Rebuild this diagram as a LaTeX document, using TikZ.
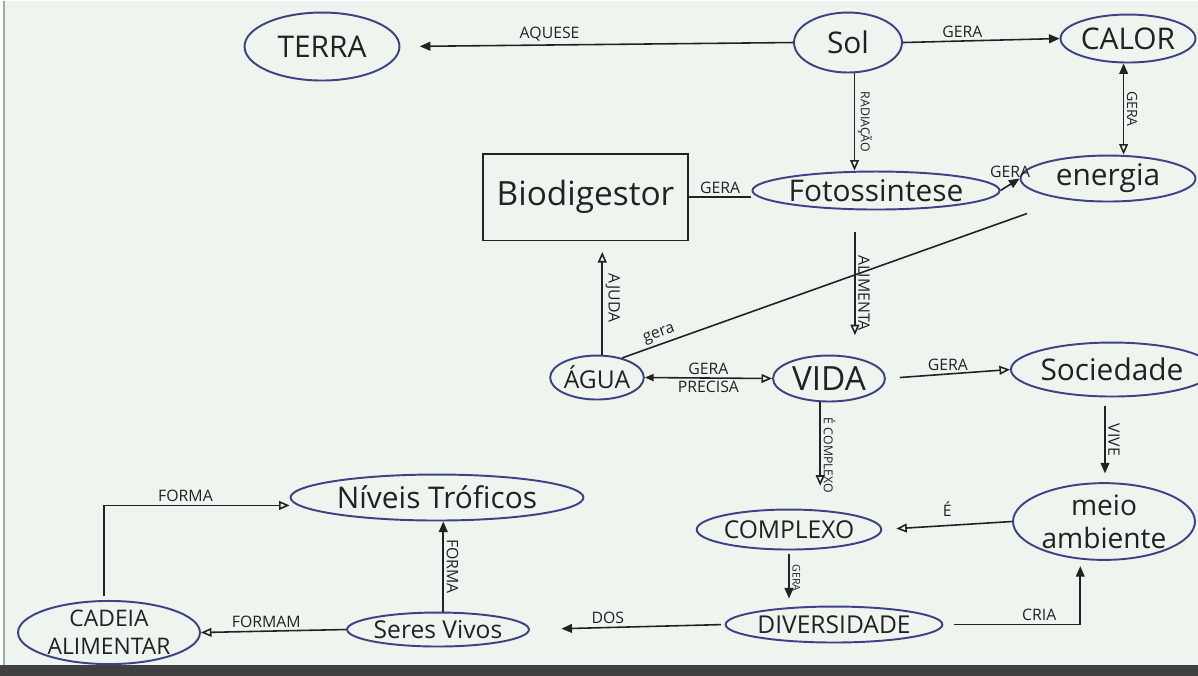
\documentclass[tikz,border=0pt]{standalone}
\usepackage{fontspec}
\setmainfont{Open Sans}
\usetikzlibrary{shapes.geometric,arrows.meta,calc}
\definecolor{paper}{RGB}{238,244,238}
\definecolor{ink}{RGB}{34,34,34}
\definecolor{pen}{RGB}{62,66,132}
\tikzset{
  x=0.02cm, y=-0.02cm,
  concept/.style={ellipse, draw=pen, line width=1.1pt, inner sep=0pt, text=ink, font=\fontsize{17}{19}\selectfont, align=center},
  boxnode/.style={rectangle, draw=ink, line width=1.1pt, inner sep=0pt, text=ink, font=\fontsize{19}{21}\selectfont},
  link/.style={draw=ink, line width=0.9pt},
  openarr/.style={-{Triangle[open,length=6pt,width=5pt]}},
  fillarr/.style={-{Triangle[length=6pt,width=5pt]}},
  lab/.style={text=ink, font=\fontsize{9}{10}\selectfont, inner sep=1.5pt},
  vlab/.style={lab, rotate=-90, anchor=south},
}
\begin{document}
\begin{tikzpicture}
% paper
\fill[white] (0,0) rectangle (1198,675);
\fill[paper] (4,0) rectangle (1198,664);
\fill[black!75] (0,664) rectangle (1198,675);
\draw[black!35, line width=0.6pt] (4,0) -- (4,664);
\useasboundingbox (0,0) rectangle (1198,675);

% nodes
\node[concept, minimum width=155*0.569pt, minimum height=68*0.569pt] (terra) at (322,46) {TERRA};
\node[concept, minimum width=108*0.569pt, minimum height=60*0.569pt] (sol) at (848,42) {Sol};
\node[concept, minimum width=135*0.569pt, minimum height=48*0.569pt] (calor) at (1128,38) {CALOR};
\node[boxnode, minimum width=205*0.569pt, minimum height=87*0.569pt] (bio) at (585.5,196.5) {Biodigestor};
\node[concept, minimum width=205*0.569pt, minimum height=38*0.569pt] (foto) at (876,190) {Fotossintese};
\node[concept, minimum width=175*0.569pt, minimum height=46*0.569pt] (energia) at (1108,178) {energia};
\node[concept, minimum width=92*0.569pt, minimum height=44*0.569pt, font=\fontsize{14}{16}\selectfont] (agua) at (597,377) {ÁGUA};
\node[concept, minimum width=112*0.569pt, minimum height=46*0.569pt, font=\fontsize{19}{21}\selectfont] (vida) at (829,378) {VIDA};
\node[concept, minimum width=160*0.569pt, minimum height=54*0.569pt] (soc) at (1112,369) {Sociedade};
\node[concept, minimum width=182*0.569pt, minimum height=66*0.569pt, font=\fontsize{16}{19}\selectfont] (meio) at (1104,521) {meio\\ambiente};
\node[concept, minimum width=153*0.569pt, minimum height=40*0.569pt, font=\fontsize{14}{16}\selectfont] (complexo) at (789,529) {COMPLEXO};
\node[concept, minimum width=203*0.569pt, minimum height=36*0.569pt, font=\fontsize{14}{16}\selectfont] (div) at (834,624) {DIVERSIDADE};
\node[concept, minimum width=172*0.569pt, minimum height=34*0.569pt, font=\fontsize{14}{16}\selectfont] (seres) at (438,629) {Seres Vivos};
\node[concept, minimum width=182*0.569pt, minimum height=62*0.569pt, font=\fontsize{13}{16}\selectfont] (cadeia) at (109,632) {CADEIA\\ALIMENTAR};
\node[concept, minimum width=293*0.569pt, minimum height=46*0.569pt] (niveis) at (437,497) {Níveis Tróficos};
\coordinate (geraend) at (1027,213);

% connectors
\draw[link, fillarr, shorten >=11pt] (sol.west) -- node[lab, pos=0.62, above] {AQUESE} (terra.east);
\draw[link, fillarr] (sol.east) -- node[lab, pos=0.38, above] {GERA} (calor.west);
\draw[link, openarr] (sol.-78) -- node[vlab, font=\fontsize{7}{8}\selectfont] {RADIAÇÃO} (sol.-78 |- foto.north);
\draw[link, {Triangle[length=6pt,width=5pt]}-{Triangle[open,length=6pt,width=5pt]}] (calor.-100) -- node[vlab, font=\fontsize{8}{9}\selectfont] {GERA} (calor.-100 |- energia.north);
\draw[link] (bio.east) -- node[lab, above] {GERA} (bio.east -| foto.west);
\draw[link, fillarr] (foto.east) -- node[lab, above=2pt] {GERA} (energia.west);
\draw[link, openarr, shorten >=11pt] ([xshift=-12pt,yshift=-12pt]foto.south) -- node[vlab] {ALIMENTA} ([xshift=-12pt]foto.south |- vida.north);
\draw[link] (agua.38) -- node[lab, pos=0.1, above, sloped] {gera} (geraend);
\draw[link, openarr, shorten >=6pt] ([xshift=3pt]agua.north) -- node[vlab] {AJUDA} ([xshift=3pt]agua.north |- bio.south);
\draw[link, {Triangle[length=5pt,width=4pt]}-{Triangle[open,length=6pt,width=5pt]}] (agua.east) -- node[lab, above] {GERA} node[lab, below] {PRECISA} (vida.west);
\draw[link, openarr, shorten <=8pt] (vida.east) -- node[lab, above] {GERA} (soc.west);
\draw[link, openarr, shorten >=13pt] ([xshift=-5pt]vida.south) -- node[vlab, font=\fontsize{7}{8}\selectfont] {É COMPLEXO} ([xshift=-5pt]vida.south |- complexo.north);
\draw[link, fillarr, shorten >=5pt, shorten <=5pt] ([xshift=-4pt]soc.south) -- node[vlab] {VIVE} ([xshift=-4pt]soc.south |- meio.north);
\draw[link, openarr, shorten >=8pt] (meio.west) -- node[lab, above=3pt] {É} (complexo.east);
\draw[link, fillarr, shorten <=2pt, shorten >=4pt] (complexo.south) -- node[vlab, font=\fontsize{6}{7}\selectfont] {GERA} (complexo.south |- div.north);
\draw[link, fillarr, shorten <=6pt, shorten >=3pt] (div.east) -| node[lab, pos=0.35, above] {CRIA} ([xshift=-13.5pt]meio.south);
\draw[link, fillarr, shorten <=2pt, shorten >=18pt] (div.west) -- node[lab, pos=0.6, above] {DOS} (seres.east);
\draw[link, fillarr] ([xshift=3pt]seres.north) -- node[vlab] {FORMA} ([xshift=3pt]seres.north |- niveis.south);
\draw[link, openarr] (seres.west) -- node[lab, pos=0.55, above] {FORMAM} (cadeia.east);
\draw[link, openarr, shorten <=2pt] ([xshift=-3pt]cadeia.north) |- node[lab, pos=0.72, above] {FORMA} ([yshift=-4.5pt]niveis.west);
\end{tikzpicture}
\end{document}
